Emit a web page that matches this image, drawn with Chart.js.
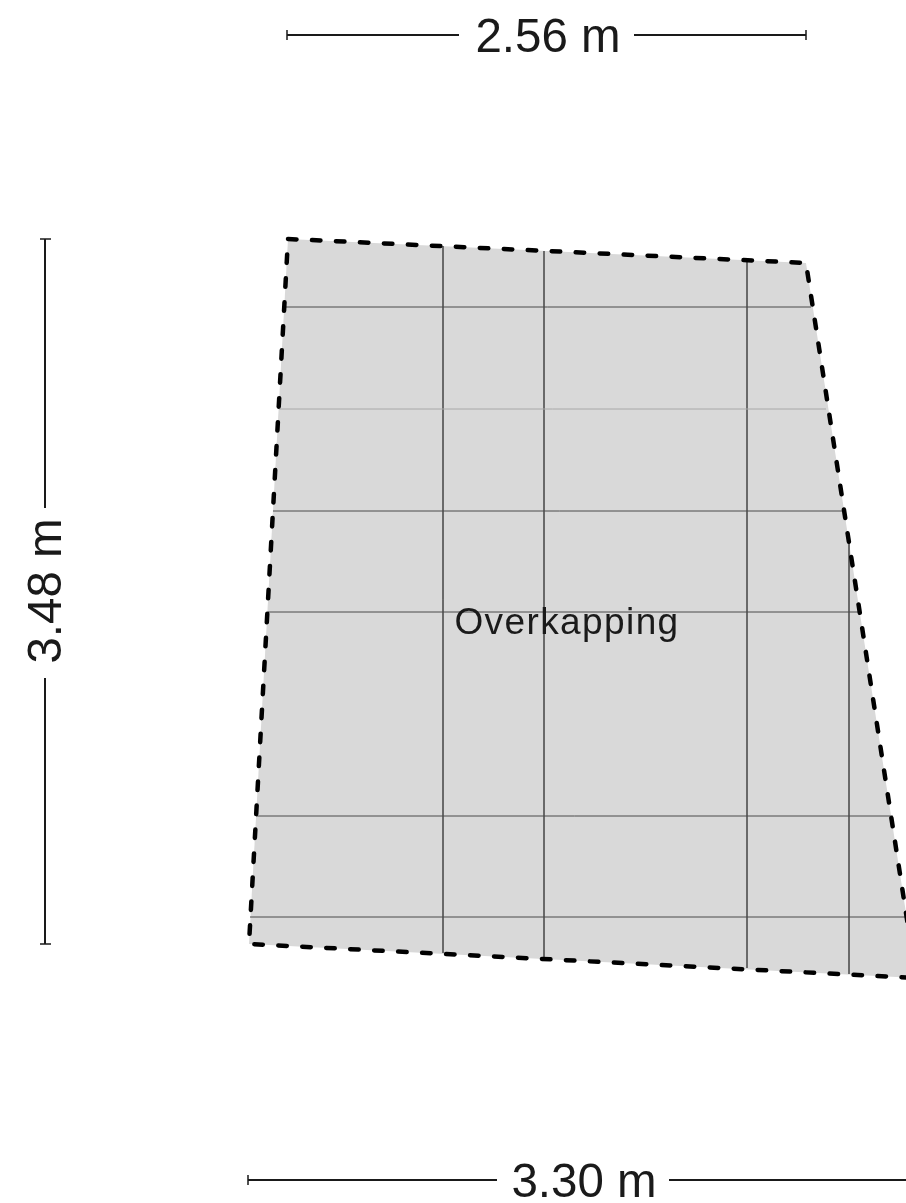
<!DOCTYPE html>
<html><head><meta charset="utf-8">
<script src="https://cdn.jsdelivr.net/npm/chart.js@4/dist/chart.umd.min.js"></script>
<style>html,body{margin:0;padding:0;background:#fff}#w{width:906px;height:1203px;position:relative}</style>
</head><body><div id="w"><canvas id="c"></canvas></div>
<script>
const outlineX=[288,806,916,249,288];
const outlineY=[239,263,978,944,239];
const hLinesDark=[[284,307,811,307],[273,511,846,511],[268,612,860,612],[256,816,893,816],[250,917,906,917]];
const hLinesLight=[[279,409,826,409]];
const vLines=[[443,246,443,953],[544,251,544,959],[747,260,747,968],[849,539,849,974]];
const dimLines=[[287,35,459,35],[634,35,806,35],[45,239,45,508],[45,678,45,944],[248,1180,497,1180],[669,1180,907,1180]];
const dimCaps=[[287,30,287,40],[806,30,806,40],[40,239,51,239],[40,944,51,944],[248,1175,248,1185]];
const labels=[["2.56 m",548,39,47.5,0,0],["3.48 m",48,591,47.5,-90,0],["3.30 m",584,1184,47.5,0,0],["Overkapping",567,624,37,0,1.4]];
function segs(list,color,width){return list.map(s=>({data:[{x:s[0],y:s[1]},{x:s[2],y:s[3]}],showLine:true,borderColor:color,borderWidth:width,pointRadius:0,fill:false}));}
const outline=outlineX.map((v,i)=>({x:v,y:outlineY[i]}));
const textPlugin={id:'texts',afterDatasetsDraw(ch){const g=ch.ctx,{x,y}=ch.scales;
 labels.forEach(l=>{g.save();g.translate(x.getPixelForValue(l[1]),y.getPixelForValue(l[2]));g.rotate(l[4]*Math.PI/180);
 g.letterSpacing=l[5]+'px';g.font=l[3]+'px "Liberation Sans",Arial,sans-serif';g.fillStyle='#1a1a1a';g.textAlign='center';g.textBaseline='middle';g.fillText(l[0],0,0);g.restore();});}};
new Chart(document.getElementById('c'),{type:'scatter',
 data:{datasets:[
  {data:outline,showLine:true,borderWidth:0,borderColor:'rgba(0,0,0,0)',backgroundColor:'#d9d9d9',fill:'shape',pointRadius:0,order:10},
  ...segs(hLinesDark,'#4a4a4a',1),...segs(hLinesLight,'#a8a8a8',1),...segs(vLines,'#5a5a5a',1),
  ...segs(dimLines,'#1a1a1a',2),...segs(dimCaps,'#1a1a1a',1.5),
  {data:outline,showLine:true,borderColor:'#000',borderWidth:4.5,borderDash:[8.5,15.5],borderCapStyle:'round',fill:false,pointRadius:0,order:-1}
 ]},
 options:{responsive:true,maintainAspectRatio:false,animation:false,layout:{padding:0},
  plugins:{legend:{display:false},tooltip:{enabled:false},title:{display:false}},
  scales:{x:{type:'linear',display:false,min:0,max:906},y:{type:'linear',display:false,min:0,max:1203,reverse:true}}},
 plugins:[textPlugin]});
</script></body></html>
